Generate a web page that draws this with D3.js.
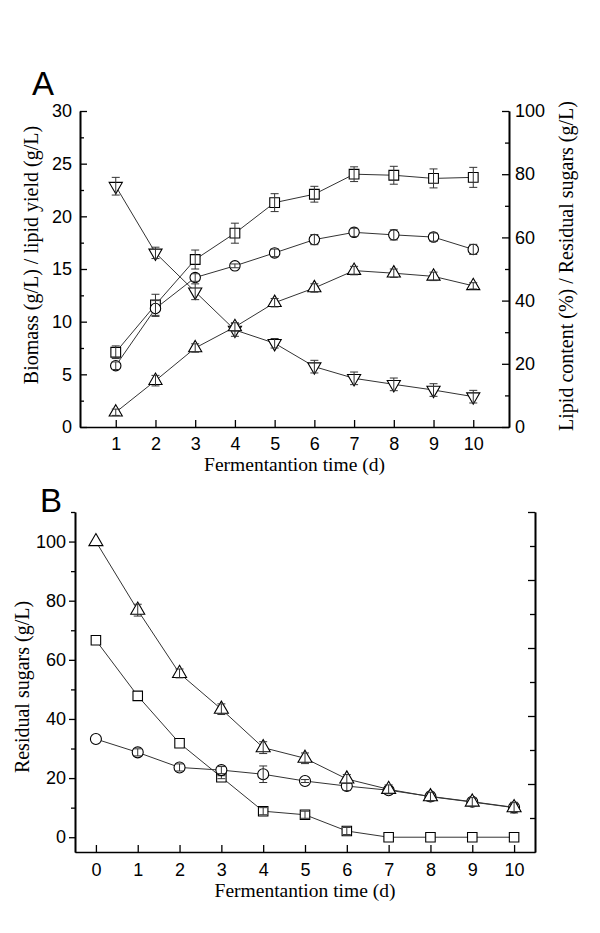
<!DOCTYPE html>
<html><head><meta charset="utf-8">
<script src="https://cdn.jsdelivr.net/npm/d3@7"></script>
<style>
body{margin:0;background:#fff;}
svg{display:block;}
.tick text{font-family:"Liberation Sans",Arial,sans-serif;font-size:18px;fill:#000;}
.title{font-family:"Liberation Serif","Times New Roman",serif;fill:#000;}
</style>
</head><body>
<svg id="c" width="600" height="933"></svg>
<script>
// ---------- Data ----------
const daysA = [1, 2, 3, 4, 5, 6, 7, 8, 9, 10];
const biomass = [7.1, 11.6, 15.9, 18.4, 21.3, 22.1, 24.0, 23.9, 23.6, 23.7];
const biomassErr = [0.6, 1.0, 0.9, 0.95, 0.85, 0.75, 0.7, 0.85, 0.9, 0.95];
const lipidYield = [1.4, 4.4, 7.5, 9.5, 11.8, 13.2, 14.85, 14.6, 14.3, 13.4];
const lipidYieldErr = [0.3, 0.5, 0.4, 0.4, 0.4, 0.4, 0.4, 0.4, 0.4, 0.3];
const lipidContent = [19.4, 37.5, 47.3, 51.0, 55.1, 59.3, 61.6, 60.8, 60.1, 56.2];
const lipidContentErr = [1.2, 2.5, 1.2, 0.6, 1.2, 1.6, 1.3, 1.6, 1.3, 1.6];
const residualA = [76.2, 55.1, 42.8, 30.7, 26.5, 19.1, 15.4, 13.5, 11.7, 9.6];
const residualAErr = [2.8, 1.8, 2.5, 2.0, 1.5, 2.0, 2.0, 2.0, 2.0, 2.0];

const daysB = [0, 1, 2, 3, 4, 5, 6, 7, 8, 9, 10];
const sugarCircle = [33.2, 28.7, 23.6, 22.7, 21.3, 19.0, 17.3, 15.9, 13.8, 12.0, 10.1];
const sugarCircleErr = [0, 1.2, 1.2, 1.2, 2.8, 0.5, 1.5, 1.0, 1.0, 1.0, 1.0];
const sugarSquare = [66.6, 47.8, 31.8, 20.3, 8.8, 7.6, 2.1, 0, 0, 0, 0];
const sugarSquareErr = [0, 0, 0, 0.5, 1.2, 1.2, 1.2, 0, 0, 0, 0];
const sugarTriangle = [100, 76.8, 55.4, 43.3, 30.3, 26.7, 19.7, 16.2, 13.7, 11.9, 10.0];
const sugarTriangleErr = [0, 2.0, 1.5, 1.8, 2.0, 1.8, 1.5, 1.5, 1.5, 1.5, 1.8];

const ticksALeft = [0, 5, 10, 15, 20, 25, 30];
const ticksARight = [0, 20, 40, 60, 80, 100];
const ticksBLeft = [0, 20, 40, 60, 80, 100];

const xTitle = "Fermentantion time (d)";
const yTitleALeft = "Biomass (g/L) / lipid yield (g/L)";
const yTitleARight = "Lipid content (%) / Residual sugars (g/L)";
const yTitleB = "Residual sugars (g/L)";

// ---------- Drawing ----------
const svg = d3.select("#c");
svg.append("rect").attr("width",600).attr("height",933).attr("fill","#fff");

function styleAxis(g){
  g.selectAll("path.domain").attr("stroke","#000").attr("stroke-width",1.6);
  g.selectAll(".tick line").attr("stroke","#000").attr("stroke-width",1.3);
}

function series(g, xs, ys, errs, xS, yS, sym, size, rot){
  const pts = xs.map((d,i)=>({x:d,y:ys[i],e:errs[i]}));
  g.append("path").datum(pts)
    .attr("fill","none").attr("stroke","#333").attr("stroke-width",1)
    .attr("d", d3.line().x(p=>xS(p.x)).y(p=>yS(p.y)));
  g.selectAll(null).data(pts).enter().append("path")
    .attr("d", d3.symbol().type(sym).size(size)())
    .attr("transform", p=>`translate(${xS(p.x)},${yS(p.y)}) rotate(${rot||0})`)
    .attr("fill","#fff").attr("stroke","#000").attr("stroke-width",1.1);
  const eb = g.selectAll(null).data(pts.filter(p=>p.e>0)).enter().append("g")
    .attr("stroke","#333").attr("stroke-width",1);
  eb.append("line").attr("x1",p=>xS(p.x)).attr("x2",p=>xS(p.x))
    .attr("y1",p=>yS(p.y-p.e)).attr("y2",p=>yS(p.y+p.e));
  eb.append("line").attr("x1",p=>xS(p.x)-4).attr("x2",p=>xS(p.x)+4)
    .attr("y1",p=>yS(p.y+p.e)).attr("y2",p=>yS(p.y+p.e));
  eb.append("line").attr("x1",p=>xS(p.x)-4).attr("x2",p=>xS(p.x)+4)
    .attr("y1",p=>yS(p.y-p.e)).attr("y2",p=>yS(p.y-p.e));
}

// ----- Panel A -----
const xA = d3.scaleLinear().domain([0.1, 10.9]).range([80, 509]);
const yAL = d3.scaleLinear().domain([0, 30]).range([427, 111]);
const yAR = d3.scaleLinear().domain([0, 100]).range([427, 111]);

const gA = svg.append("g");
gA.append("g").attr("transform","translate(80,0)")
  .call(d3.axisLeft(yAL).tickValues(d3.range(2.5,30,5)).tickFormat("").tickSize(-4).tickSizeOuter(0))
  .call(styleAxis);
gA.append("g").attr("transform","translate(509,0)")
  .call(d3.axisRight(yAR).tickValues(d3.range(10,100,20)).tickFormat("").tickSize(-4).tickSizeOuter(0))
  .call(styleAxis);
gA.append("g").attr("transform","translate(80,0)")
  .call(d3.axisLeft(yAL).tickValues(ticksALeft).tickSize(-7).tickSizeOuter(0).tickPadding(8))
  .call(styleAxis);
gA.append("g").attr("transform","translate(509,0)")
  .call(d3.axisRight(yAR).tickValues(ticksARight).tickSize(-7).tickSizeOuter(0).tickPadding(6))
  .call(styleAxis);
gA.append("g").attr("transform","translate(0,427)")
  .call(d3.axisBottom(xA).tickValues(daysA).tickSize(-7).tickSizeOuter(0).tickPadding(10))
  .call(styleAxis);

const plotA = gA.append("g");
series(plotA, daysA, residualA, residualAErr, xA, yAR, d3.symbolTriangle, 75, 180);
series(plotA, daysA, biomass, biomassErr, xA, yAL, d3.symbolSquare, 95, 0);
series(plotA, daysA, lipidContent, lipidContentErr, xA, yAR, d3.symbolCircle, 85, 0);
series(plotA, daysA, lipidYield, lipidYieldErr, xA, yAL, d3.symbolTriangle, 75, 0);

svg.append("text").attr("x",32).attr("y",95)
  .attr("font-family","Liberation Sans,Arial,sans-serif").attr("font-size",33).text("A");
svg.append("text").attr("class","title").attr("font-size",19.5)
  .attr("x",294.5).attr("y",471).attr("text-anchor","middle").text(xTitle);
svg.append("text").attr("class","title").attr("font-size",20)
  .attr("text-anchor","middle").attr("transform","translate(38,255) rotate(-90)").text(yTitleALeft);
svg.append("text").attr("class","title").attr("font-size",20)
  .attr("text-anchor","middle").attr("transform","translate(573,266) rotate(-90)").text(yTitleARight);

// ----- Panel B -----
const xB = d3.scaleLinear().domain([-0.5, 10.5]).range([75, 535]);
const yB = d3.scaleLinear().domain([-5, 110]).range([852, 512]);
const rB = d3.scaleLinear().domain([0, 10]).range([852, 512]);

const gB = svg.append("g");
gB.append("g").attr("transform","translate(75,0)")
  .call(d3.axisLeft(yB).tickValues(d3.range(10,111,20)).tickFormat("").tickSize(4).tickSizeOuter(0))
  .call(styleAxis);
gB.append("g").attr("transform","translate(75,0)")
  .call(d3.axisLeft(yB).tickValues(ticksBLeft).tickSize(6).tickSizeOuter(0).tickPadding(3))
  .call(styleAxis);
gB.append("g").attr("transform","translate(535,0)")
  .call(d3.axisRight(rB).tickValues(d3.range(1,10,2)).tickFormat("").tickSize(-5).tickSizeOuter(0))
  .call(styleAxis);
gB.append("g").attr("transform","translate(535,0)")
  .call(d3.axisRight(rB).tickValues(d3.range(2,11,2)).tickFormat("").tickSize(-7).tickSizeOuter(0))
  .call(styleAxis);
gB.append("g").attr("transform","translate(0,852)")
  .call(d3.axisBottom(xB).tickValues(daysB).tickSize(-7).tickSizeOuter(0).tickPadding(11))
  .call(styleAxis);

const plotB = gB.append("g");
series(plotB, daysB, sugarSquare, sugarSquareErr, xB, yB, d3.symbolSquare, 90, 0);
series(plotB, daysB, sugarCircle, sugarCircleErr, xB, yB, d3.symbolCircle, 95, 0);
series(plotB, daysB, sugarTriangle, sugarTriangleErr, xB, yB, d3.symbolTriangle, 85, 0);

svg.append("text").attr("x",40).attr("y",512)
  .attr("font-family","Liberation Sans,Arial,sans-serif").attr("font-size",33).text("B");
svg.append("text").attr("class","title").attr("font-size",19.5)
  .attr("x",305).attr("y",897).attr("text-anchor","middle").text(xTitle);
svg.append("text").attr("class","title").attr("font-size",20)
  .attr("text-anchor","middle").attr("transform","translate(29,687) rotate(-90)").text(yTitleB);
</script>
</body></html>
